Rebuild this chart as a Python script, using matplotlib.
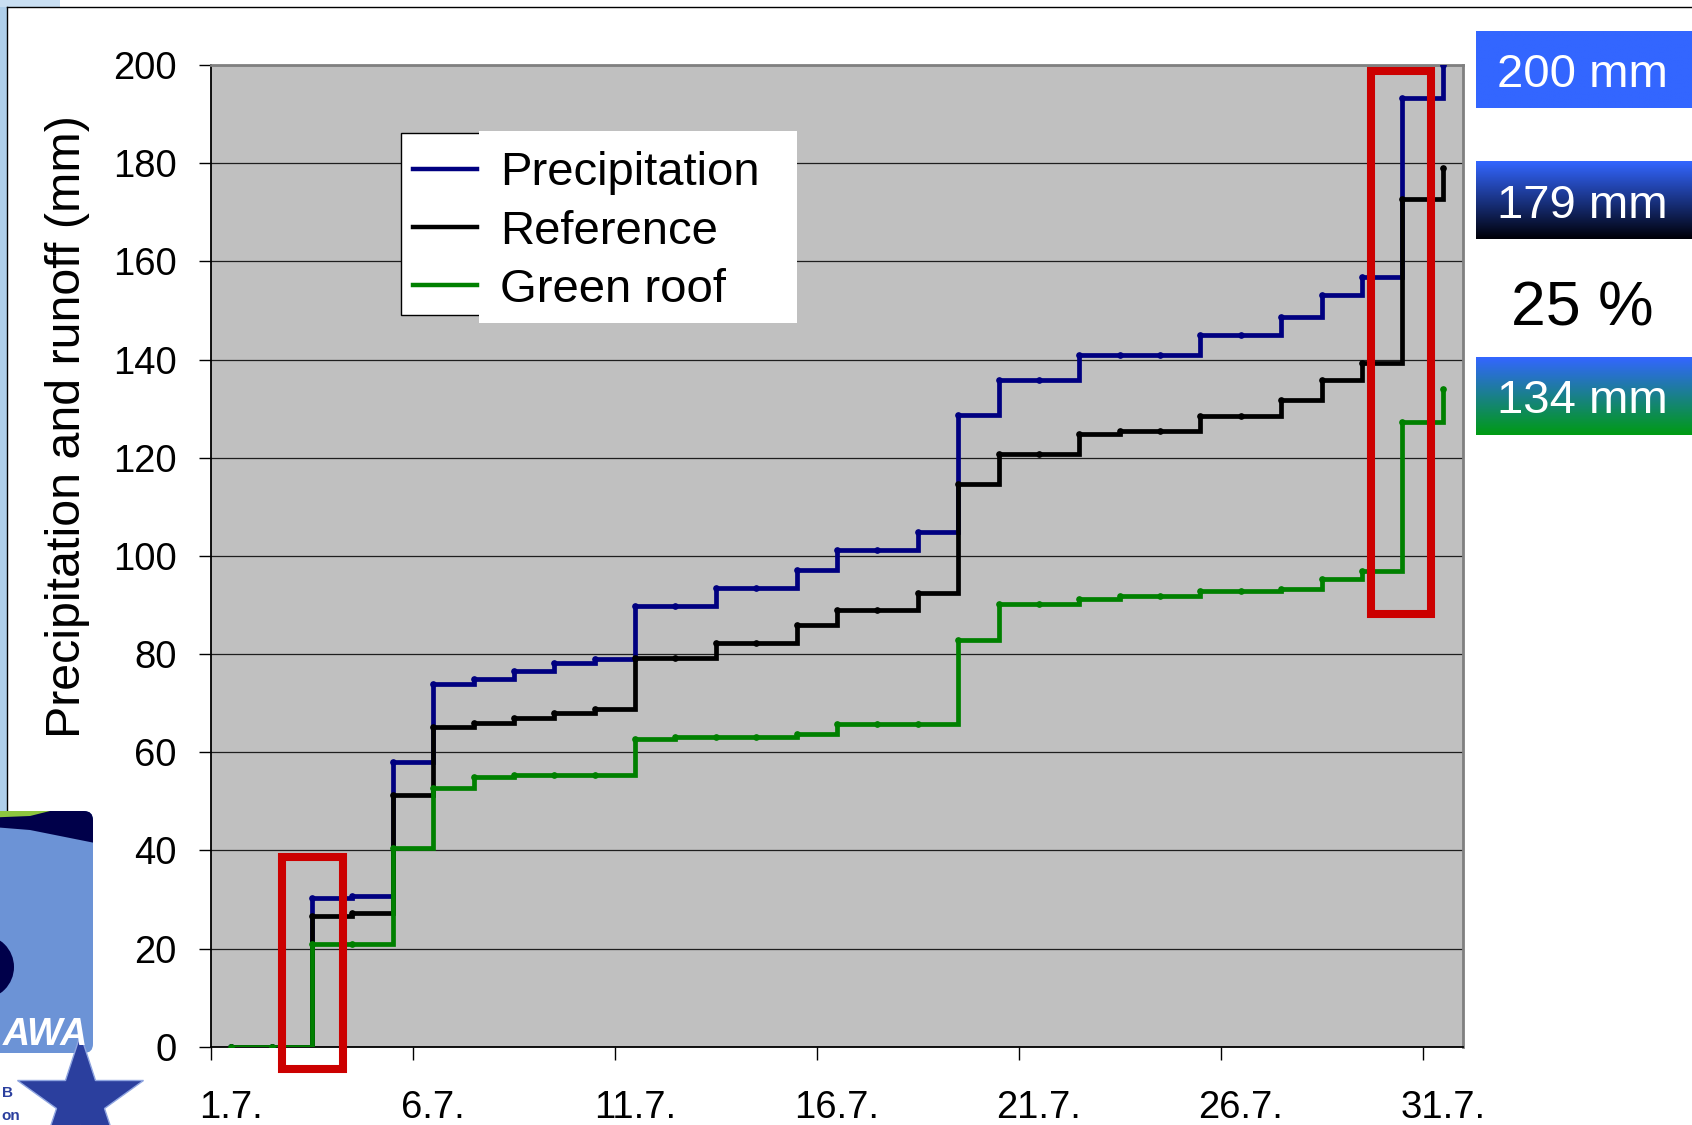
import numpy as np
import matplotlib
matplotlib.use("Agg")
import matplotlib.pyplot as plt
import matplotlib.transforms as mtransforms
from matplotlib.patches import Rectangle, FancyBboxPatch, Polygon, Circle
from matplotlib.lines import Line2D

plt.rcParams["font.family"] = ["Liberation Sans", "DejaVu Sans"]

# ---- data: cumulative totals (mm) for each day of July ----
days = np.arange(1, 32)
tick_days = [1, 6, 11, 16, 21, 26, 31]
tick_labels = ["1.7.", "6.7.", "11.7.", "16.7.", "21.7.", "26.7.", "31.7."]

precipitation = [0, 0, 30.3, 30.7, 58.0, 73.9, 74.9, 76.6, 78.1, 79.0,
                 89.8, 89.8, 93.5, 93.5, 97.1, 101.2, 101.2, 104.9, 128.7, 135.8,
                 135.8, 140.9, 140.9, 140.9, 144.9, 144.9, 148.7, 153.1, 156.8, 193.2,
                 200.0]
reference = [0, 0, 26.7, 27.2, 51.3, 65.2, 65.9, 66.9, 67.9, 68.7,
             79.1, 79.1, 82.2, 82.2, 85.9, 88.9, 88.9, 92.5, 114.6, 120.7,
             120.7, 124.9, 125.4, 125.4, 128.5, 128.5, 131.7, 135.8, 139.3, 172.6,
             179.0]
green_roof = [0, 0, 20.9, 20.9, 40.4, 52.8, 54.9, 55.3, 55.3, 55.3,
              62.6, 63.0, 63.0, 63.0, 63.7, 65.7, 65.7, 65.7, 82.9, 90.2,
              90.2, 91.2, 91.8, 91.8, 92.8, 92.8, 93.3, 95.3, 97.0, 127.3,
              134.0]

series = [("Precipitation", precipitation, "#000080"),
          ("Reference", reference, "#000000"),
          ("Green roof", green_roof, "#008000")]

# highlighted periods (day ranges, value ranges)
highlights = [((1.76, 3.26), (-4.5, 38.7)),
              ((28.71, 30.22), (88.1, 198.8))]

totals = ["200 mm", "179 mm", "134 mm"]
reduction = "25 %"

# ---- figure ----
W, H = 1692, 1125
fig = plt.figure(figsize=(W / 100, H / 100), dpi=100)
fig.patch.set_facecolor("white")
# pixel transform with origin at the top-left corner
px = mtransforms.Affine2D().scale(1, -1).translate(0, H)


def frac(x0, y0, x1, y1):
    return [x0 / W, 1 - y1 / H, (x1 - x0) / W, (y1 - y0) / H]


ax = fig.add_axes(frac(211, 65, 1463, 1046.7))
ax.set_facecolor("#C0C0C0")

x = days - 0.5
for name, vals, color in series:
    ax.step(x, vals, where="post", color=color, lw=3.4, label=name,
            solid_joinstyle="miter", zorder=3)
    ax.plot(x, vals, "o", ms=3.8, color=color, zorder=3)

ax.set_xlim(0, 31)
ax.set_ylim(0, 200)
ax.set_yticks(np.arange(0, 201, 20))
ax.yaxis.grid(True, color="#1e1e1e", lw=0.9)
ax.set_axisbelow(True)

ax.set_xticks(np.arange(0, 31, 5))
ax.set_xticks([d - 0.5 for d in tick_days], minor=True)
ax.set_xticklabels(tick_labels, minor=True)
ax.tick_params(axis="x", which="major", length=9.4, width=1, direction="out",
               labelbottom=False)
ax.tick_params(axis="x", which="minor", length=0, pad=31, labelsize=27.5)
ax.tick_params(axis="y", length=8.6, width=1, pad=16, labelsize=27.5)

for s in ("left", "bottom"):
    ax.spines[s].set_color("black")
    ax.spines[s].set_linewidth(1.3)
for s in ("top", "right"):
    ax.spines[s].set_color("#808080")
    ax.spines[s].set_linewidth(2)

ax.set_ylabel("Precipitation and runoff (mm)", fontsize=34.8)
ax.yaxis.set_label_coords(-0.0965, 0.632)

for (xa, xb), (ya, yb) in highlights:
    ax.add_patch(Rectangle((xa, ya), xb - xa, yb - ya, fill=False,
                           ec="#CC0000", lw=5.8, joinstyle="miter",
                           clip_on=False, zorder=6))

# ---- legend box ----
fig.add_artist(Rectangle((401, 133.3), 389, 181.7, transform=px,
                         fc="white", ec="black", lw=1, zorder=2))
fig.add_artist(Rectangle((479, 131), 318, 192, transform=px,
                         fc="white", ec="none", zorder=3))
handles = [Line2D([], [], color=c, lw=3.2) for _, _, c in series]
fig.legend(handles, [n for n, _, _ in series], loc="center left",
           bbox_to_anchor=(413 / W, 1 - 231.5 / H), frameon=False,
           fontsize=34, handlelength=1.36, handletextpad=0.49,
           labelspacing=0.30, borderpad=0, borderaxespad=0)

# ---- totals on the right ----
def grad_box(y0, y1, top, bottom):
    bax = fig.add_axes(frac(1475.6, y0, W, y1))
    t = np.linspace(0, 1, 64)[:, None]
    top = np.array(top) / 255
    bottom = np.array(bottom) / 255
    img = (1 - t)[..., None] * top + t[..., None] * bottom
    img = np.repeat(img, 2, axis=1)
    bax.imshow(img, aspect="auto", extent=(0, 1, 0, 1), interpolation="bilinear")
    bax.set_axis_off()


grad_box(31, 107.7, (51, 102, 255), (51, 102, 255))
grad_box(161, 238.7, (51, 102, 255), (0, 0, 8))
grad_box(357, 435, (51, 102, 255), (0, 155, 20))

for label, yb in zip(totals, (87.3, 218.3, 413.3)):
    fig.text(1582 / W, 1 - yb / H, label, color="white", fontsize=34,
             ha="center", va="baseline")
fig.text(1582 / W, 1 - 325 / H, reduction, color="black", fontsize=45,
         ha="center", va="baseline")

# ---- slide frame and decorations ----
fig.add_artist(Rectangle((0, 0), 7, 811, transform=px, fc="#AFCFEA",
                         ec="none", zorder=1))
fig.add_artist(Rectangle((0, 0), 60, 6.5, transform=px, fc="#C9DFF2",
                         ec="none", zorder=1))
fig.add_artist(Line2D([7, W], [6.7, 6.7], transform=px, color="black", lw=1))
fig.add_artist(Line2D([7, 7], [6.7, 811], transform=px, color="black", lw=1))

logo = FancyBboxPatch((-20, 811), 113, 242, transform=px,
                      boxstyle="round,pad=0,rounding_size=9",
                      fc="#6C93D6", ec="none", zorder=2)
fig.add_artist(logo)
wave = Polygon([(-20, 808), (95, 808), (95, 843), (60, 836), (30, 830), (-20, 826)],
               closed=True, transform=px, fc="#00004A", ec="none", zorder=3)
fig.add_artist(wave)
wave.set_clip_path(logo)
leaf = Polygon([(-20, 808), (62, 808), (30, 816), (-20, 818)], closed=True,
               transform=px, fc="#8DC63F", ec="none", zorder=3)
fig.add_artist(leaf)
leaf.set_clip_path(logo)
dot = Circle((-18, 967), 32, transform=px, fc="#00004A", ec="none", zorder=3)
fig.add_artist(dot)
dot.set_clip_path(logo)
fig.text(3 / W, 1 - 1045 / H, "AWA", color="white", fontsize=27,
         fontweight="bold", fontstyle="italic", ha="left", va="baseline")
fig.add_artist(Line2D([80], [1100], transform=px, marker="*", ms=95,
                      color="#2B3F9E", mec="#8FA5E0", mew=1.0, zorder=3))
fig.text(2 / W, 1 - 1097 / H, "B", color="#2B3F9E", fontsize=11,
         fontweight="bold", ha="left", va="baseline")
fig.text(1 / W, 1 - 1120 / H, "on", color="#2B3F9E", fontsize=11,
         fontweight="bold", ha="left", va="baseline")

fig.savefig("out.png", dpi=100)
